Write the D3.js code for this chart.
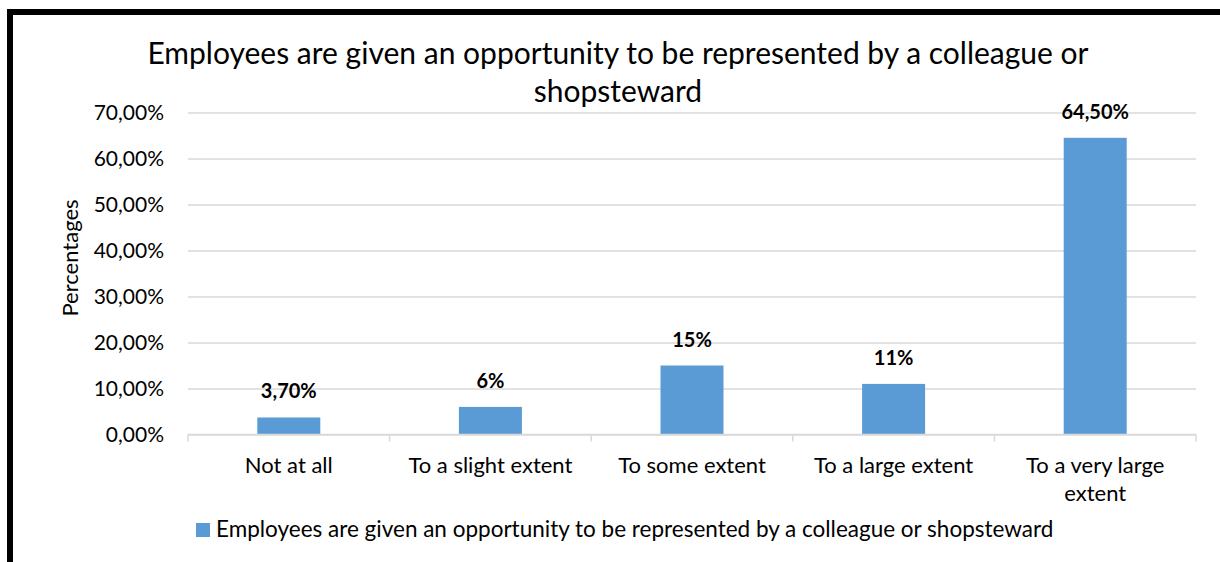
<!DOCTYPE html>
<html>
<head>
<meta charset="utf-8">
<script src="https://cdn.jsdelivr.net/npm/d3@7"></script>
<style>
  body { margin: 0; background: #fff; }
  svg { display: block; font-family: Lato, "Open Sans", sans-serif; }
</style>
</head>
<body>
<div id="chart"></div>
<script>
// chart values
var categories = ["Not at all", "To a slight extent", "To some extent", "To a large extent", "To a very large extent"];
var values = [3.7, 6, 15, 11, 64.5];
var valueLabels = ["3,70%", "6%", "15%", "11%", "64,50%"];
var yTicks = [0, 10, 20, 30, 40, 50, 60, 70];
var titleLines = ["Employees are given an opportunity to be represented by a colleague or", "shopsteward"];
var seriesName = "Employees are given an opportunity to be represented by a colleague or shopsteward";
var captionText = "Figure 4.19: Employees' perception regarding grievance and disciplinary hearings";

function init() {
    var w = 1220;
    var h = 562;

    var svg = d3.select("#chart")
        .append("svg")
        .attr("width", w)
        .attr("height", h);

    // caption above the frame, cut off by the top edge (only descenders show)
    svg.append("text")
        .attr("x", 2)
        .attr("y", -4)
        .attr("font-size", "22px")
        .attr("font-weight", "bold")
        .attr("fill", "#000")
        .text(captionText);

    // thick frame, running off the right and bottom edges
    svg.append("rect")
        .attr("x", 10)
        .attr("y", 12)
        .attr("width", 1300)
        .attr("height", 700)
        .attr("fill", "none")
        .attr("stroke", "#000")
        .attr("stroke-width", 6);

    var xScale = d3.scaleBand()
        .domain(categories)
        .range([188, 1196])
        .paddingInner(0.6875)
        .paddingOuter(0.34375);

    var yScale = d3.scaleLinear()
        .domain([0, 70])
        .range([434.5, 112.5]);

    var locale = d3.formatLocale({ decimal: ",", thousands: ".", grouping: [3], currency: ["", ""] });
    var fmt = locale.format(".2f");

    // y axis with gridlines
    var yAxis = d3.axisLeft(yScale)
        .tickValues(yTicks)
        .tickSize(-(1196 - 188))
        .tickPadding(24)
        .tickFormat(function(d) { return fmt(d) + "%"; });

    var gy = svg.append("g")
        .attr("transform", "translate(188,0)")
        .call(yAxis);
    gy.select(".domain").remove();
    gy.selectAll(".tick line")
        .attr("stroke", "#d9d9d9")
        .attr("stroke-width", 1.5);
    gy.selectAll(".tick text")
        .attr("font-family", "Lato, sans-serif")
        .attr("font-size", "21px")
        .attr("fill", "#000");

    // bars
    svg.selectAll(".bar")
        .data(values)
        .enter()
        .append("rect")
        .attr("class", "bar")
        .attr("x", function(d, i) { return xScale(categories[i]); })
        .attr("y", function(d) { return yScale(d); })
        .attr("width", xScale.bandwidth())
        .attr("height", function(d) { return yScale(0) - yScale(d); })
        .attr("fill", "#5b9bd5");

    // data labels
    svg.selectAll(".vlabel")
        .data(values)
        .enter()
        .append("text")
        .attr("class", "vlabel")
        .attr("x", function(d, i) { return xScale(categories[i]) + xScale.bandwidth() / 2; })
        .attr("y", function(d) { return yScale(d) - 19; })
        .attr("text-anchor", "middle")
        .attr("font-size", "20px")
        .attr("font-weight", "bold")
        .attr("fill", "#000")
        .text(function(d, i) { return valueLabels[i]; });

    // category axis line and boundary ticks
    var step = xScale.step();
    var gap = step * xScale.paddingInner() / 2;
    var bounds = categories.map(function(c) { return xScale(c) - gap; });
    bounds.push(xScale.range()[1]);

    svg.append("line")
        .attr("x1", 188)
        .attr("x2", 1196)
        .attr("y1", yScale(0))
        .attr("y2", yScale(0))
        .attr("stroke", "#d9d9d9")
        .attr("stroke-width", 1.5);

    svg.selectAll(".xtick")
        .data(bounds)
        .enter()
        .append("line")
        .attr("class", "xtick")
        .attr("x1", function(d) { return d; })
        .attr("x2", function(d) { return d; })
        .attr("y1", yScale(0))
        .attr("y2", yScale(0) + 7)
        .attr("stroke", "#d9d9d9")
        .attr("stroke-width", 1.5);

    // category labels, wrapped to the band width
    var catText = svg.selectAll(".cat")
        .data(categories)
        .enter()
        .append("text")
        .attr("class", "cat")
        .attr("text-anchor", "middle")
        .attr("font-size", "22px")
        .attr("fill", "#000")
        .attr("x", function(d) { return xScale(d) + xScale.bandwidth() / 2; })
        .attr("y", 472.5);

    catText.each(function(d) {
        var t = d3.select(this);
        var words = d.split(" ");
        var line = [];
        var x = t.attr("x");
        var tspan = t.append("tspan").attr("x", x).attr("dy", 0);
        words.forEach(function(word) {
            line.push(word);
            tspan.text(line.join(" "));
            if (tspan.node().getComputedTextLength() > step - 8 && line.length > 1) {
                line.pop();
                tspan.text(line.join(" "));
                line = [word];
                tspan = t.append("tspan").attr("x", x).attr("dy", 28).text(word);
            }
        });
    });

    // title
    svg.append("text")
        .attr("text-anchor", "middle")
        .attr("font-size", "30px")
        .attr("fill", "#000")
        .selectAll("tspan")
        .data(titleLines)
        .enter()
        .append("tspan")
        .attr("x", 618)
        .attr("y", function(d, i) { return 63.5 + i * 38; })
        .text(function(d) { return d; });

    // y axis title
    svg.append("text")
        .attr("text-anchor", "middle")
        .attr("transform", "translate(78,258) rotate(-90)")
        .attr("font-size", "22px")
        .attr("fill", "#000")
        .text("Percentages");

    // legend
    svg.append("rect")
        .attr("x", 196)
        .attr("y", 523)
        .attr("width", 14)
        .attr("height", 14)
        .attr("fill", "#5b9bd5");

    svg.append("text")
        .attr("x", 216)
        .attr("y", 537)
        .attr("font-size", "22.5px")
        .attr("fill", "#000")
        .text(seriesName);
}
window.onload = init;
</script>
</body>
</html>
